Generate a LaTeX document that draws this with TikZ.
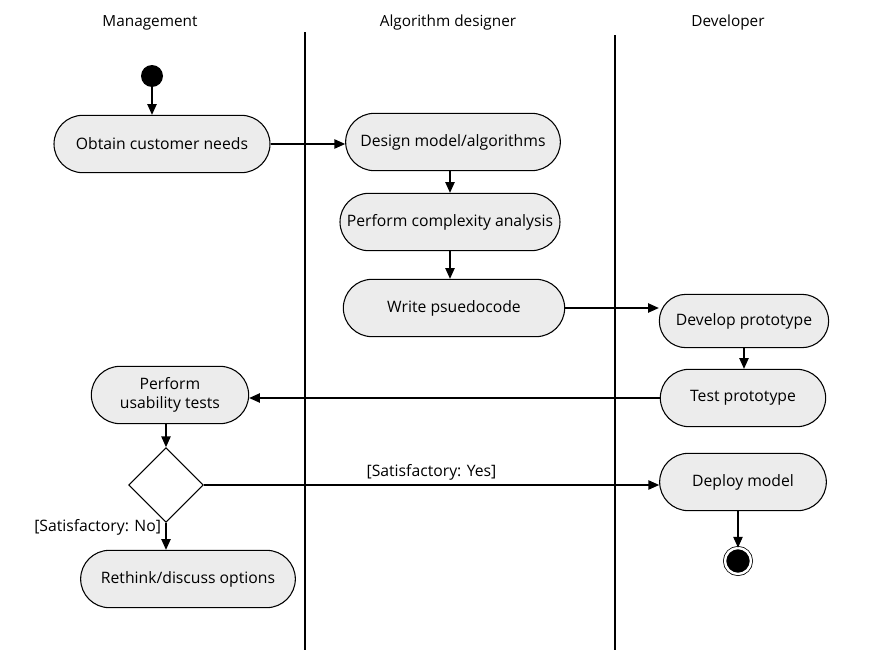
\documentclass[tikz,border=0pt]{standalone}
\usepackage{fontspec}
\setmainfont{Open Sans}
\usetikzlibrary{shapes.misc, shapes.geometric, arrows.meta}

\begin{document}
\begin{tikzpicture}
    [x=0.75pt, y=-0.75pt,
     every node/.style={font=\fontsize{11.8}{14}\selectfont},
     lanetitle/.style={font=\fontsize{11.5}{14}\selectfont},
     activity/.style={rounded rectangle, draw, thick, fill=gray!15,
                      minimum height=43pt, align=center, inner sep=2pt},
     decision/.style={diamond, draw, thick, fill=white, minimum width=56pt,
                      minimum height=56pt, inner sep=0pt},
     startnode/.style={circle, fill=black, minimum size=16.5pt, inner sep=0pt},
     endnode/.style={circle, fill=black, draw=black, double=white,
                     double distance=1.8pt, line width=0.6pt,
                     minimum size=19.5pt, inner sep=0pt},
     flow/.style={-{Triangle[length=8pt, width=7pt]}, thick},
     lane/.style={thick}]

    \useasboundingbox (0,0) rectangle (876,650);

    \node[lanetitle] (mgmt) at (150,23) {Management};
    \node[lanetitle] (algo) at (448,23) {Algorithm designer};
    \node[lanetitle] (dev) at (728,23) {Developer};

    \draw[lane] (305,32) -- (305,650);
    \draw[lane] (615,35) -- (615,650);

    \node[startnode] (start) at (152,76) {};
    \node[activity, minimum width=166pt] (needs) at (162,144) {Obtain customer needs};
    \node[activity, minimum width=165pt] (design) at (453,142) {Design model/algorithms};
    \node[activity, minimum width=169pt] (complexity) at (450,222) {Perform complexity analysis};
    \node[activity, minimum width=170pt] (pseudo) at (454,308) {Write psuedocode};
    \node[activity, minimum width=131pt, minimum height=40pt] (develop) at (744,321) {Develop prototype};
    \node[activity, minimum width=128pt] (test) at (743,398) {Test prototype};
    \node[activity, minimum width=122pt] (usability) at (170,395) {Perform\\usability tests};
    \node[decision] (choice) at (166,485) {};
    \node[activity, minimum width=165pt] (rethink) at (188,579) {Rethink/discuss options};
    \node[activity, minimum width=129pt] (deploy) at (743,482) {Deploy model};
    \node[endnode] (finish) at (738,561) {};

    \draw[flow] (start) -- (start |- needs.north);
    \draw[flow] (needs.east) -- (needs.east -| design.west);
    \draw[flow] (design.south -| complexity.north) -- (complexity.north);
    \draw[flow] (complexity.south) -- (complexity.south |- pseudo.north);
    \draw[flow] (pseudo.east) -- (pseudo.east -| develop.west);
    \draw[flow] (develop.south) -- (develop.south |- test.north);
    \draw[flow] (test.west) -- (test.west -| usability.east);
    \draw[flow] (usability.south -| choice.north) -- (choice.north);
    \draw[flow] (choice.east) -- node[above] {[Satisfactory: Yes]} (choice.east -| deploy.west);
    \draw[flow] (choice.south) -- node[left, pos=0.15] {[Satisfactory: No]} (choice.south |- rethink.north);
    \draw[flow] (deploy.south -| finish.north) -- (finish.north);

\end{tikzpicture}
\end{document}
